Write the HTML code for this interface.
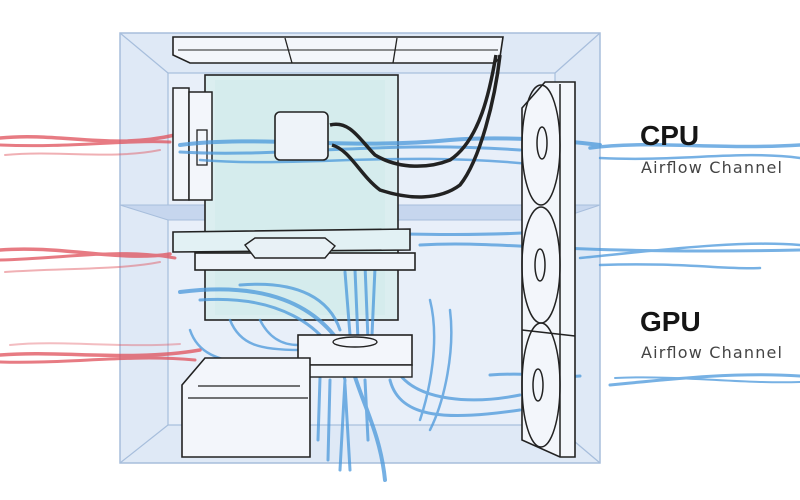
<!DOCTYPE html>
<html><head><meta charset="utf-8"><style>
html,body{margin:0;padding:0;background:#fff;width:800px;height:500px;overflow:hidden}
svg{display:block}
</style></head><body>
<svg width="800" height="500" viewBox="0 0 800 500" xmlns="http://www.w3.org/2000/svg" font-family="Liberation Sans, sans-serif">
<rect x="120" y="33" width="480" height="430" fill="#dfe9f6" stroke="#a7bedc" stroke-width="1.5"/>
<rect x="168" y="73" width="387" height="352" fill="#e8eff9" stroke="#a7bedc" stroke-width="1.2"/>
<g stroke="#a7bedc" stroke-width="1.2" fill="none">
<line x1="120" y1="33" x2="168" y2="73"/><line x1="600" y1="33" x2="555" y2="73"/>
<line x1="120" y1="463" x2="168" y2="425"/><line x1="600" y1="463" x2="555" y2="425"/>
</g>
<polygon points="120,205 600,205 555,220 168,220" fill="#c6d6ee" stroke="#a7bedc"/>
<g stroke="#e0505a" fill="none" stroke-linecap="round" opacity="0.75">
<path d="M0 138 C60 132 110 150 175 135" stroke-width="3.5"/>
<path d="M0 145 C70 148 120 140 170 142" stroke-width="3"/>
<path d="M5 155 C60 150 110 160 160 150" stroke-width="2" opacity="0.6"/>
<path d="M0 250 C60 245 120 262 170 254" stroke-width="3.5"/>
<path d="M0 260 C70 258 120 248 175 258" stroke-width="3"/>
<path d="M5 272 C60 268 120 270 160 262" stroke-width="2" opacity="0.6"/>
<path d="M0 355 C60 350 130 362 200 350" stroke-width="3.5"/>
<path d="M0 362 C70 364 130 354 195 360" stroke-width="3"/>
<path d="M10 345 C60 340 120 348 180 344" stroke-width="2" opacity="0.5"/>
</g>
<rect x="205" y="75" width="193" height="245" fill="#dbeef0" stroke="#222" stroke-width="1.6"/>
<rect x="215" y="80" width="170" height="235" fill="#cfeaea" opacity="0.5"/>
<path d="M173 37 L503 37 L500 57 L495 63 L190 63 L173 55 Z" fill="#f3f6fb" stroke="#222" stroke-width="1.6"/>
<line x1="285" y1="38" x2="292" y2="63" stroke="#222" stroke-width="1.3"/>
<line x1="397" y1="38" x2="393" y2="63" stroke="#222" stroke-width="1.3"/>
<line x1="178" y1="50" x2="498" y2="50" stroke="#222" stroke-width="1"/>
<rect x="173" y="88" width="16" height="112" fill="#f3f6fb" stroke="#222" stroke-width="1.5"/>
<rect x="189" y="92" width="23" height="108" fill="#f3f6fb" stroke="#222" stroke-width="1.5"/>
<rect x="197" y="130" width="10" height="35" fill="none" stroke="#222" stroke-width="1.3"/>
<g stroke="#4a98db" fill="none" stroke-linecap="round" opacity="0.75">
<path d="M180 145 C260 135 350 150 450 140 C500 136 560 140 600 145" stroke-width="4"/>
<path d="M180 152 C280 158 380 140 520 150" stroke-width="3"/>
<path d="M200 160 C300 168 400 150 540 165" stroke-width="2.5"/>
<path d="M590 148 C650 140 720 150 800 145" stroke-width="3.5"/>
<path d="M600 158 C680 162 740 150 800 158" stroke-width="2.5"/>
<path d="M180 237 C280 225 420 240 540 232" stroke-width="3"/>
<path d="M420 245 C500 240 560 255 800 250" stroke-width="3"/>
<path d="M580 258 C660 250 740 240 800 245" stroke-width="2.5"/>
<path d="M600 265 C680 262 730 270 760 268" stroke-width="2.5"/>
<path d="M180 292 C260 282 320 300 350 360 C360 400 380 430 385 480" stroke-width="4"/>
<path d="M200 300 C270 295 330 320 345 380 L340 470" stroke-width="3"/>
<path d="M240 285 C300 280 330 300 340 330" stroke-width="3"/>
<path d="M355 270 L358 340 M365 265 L368 340 M375 268 L372 335 M345 272 L350 335" stroke-width="3"/>
<path d="M330 380 L328 460 M345 385 L350 470 M320 378 L318 440 M365 380 L368 440" stroke-width="3"/>
<path d="M390 380 C400 420 450 420 520 410 M400 375 C420 400 470 405 520 395" stroke-width="3"/>
<path d="M430 300 C440 340 430 390 420 420 M450 310 C455 350 445 400 430 430" stroke-width="2.5"/>
<path d="M190 330 C200 360 230 360 250 365 M230 320 C240 345 260 350 300 350 M260 320 C270 340 285 345 298 345" stroke-width="2.5"/>
<path d="M490 375 C530 372 560 378 580 376 M610 385 C680 378 740 372 800 376" stroke-width="3"/>
<path d="M615 378 C680 375 740 384 800 382" stroke-width="2"/>
</g>
<rect x="275" y="112" width="53" height="48" rx="5" fill="#eef3f9" stroke="#222" stroke-width="1.6"/>
<g stroke="#222" stroke-width="3.5" fill="none">
<path d="M330 125 C350 120 360 140 375 155 C400 170 430 168 450 160 C480 140 490 90 496 55"/>
<path d="M332 145 C350 150 360 175 380 190 C410 200 440 200 460 185 C480 160 495 100 500 55"/>
</g>
<path d="M173 232 L410 229 L410 250 L173 252 Z" fill="#e2f1f4" stroke="#222" stroke-width="1.6"/>
<rect x="195" y="253" width="220" height="17" fill="#eef3f9" stroke="#222" stroke-width="1.6"/>
<polygon points="245,245 255,238 325,238 335,246 325,258 255,258" fill="#e8f1f6" stroke="#222" stroke-width="1.4"/>
<rect x="298" y="335" width="114" height="30" fill="#f3f6fb" stroke="#222" stroke-width="1.6"/>
<rect x="296" y="365" width="116" height="12" fill="#f3f6fb" stroke="#222" stroke-width="1.4"/>
<ellipse cx="355" cy="342" rx="22" ry="5" fill="none" stroke="#222" stroke-width="1.4"/>
<path d="M182 385 L205 358 L310 358 L310 457 L182 457 Z" fill="#f3f6fb" stroke="#222" stroke-width="1.6"/>
<line x1="198" y1="386" x2="300" y2="386" stroke="#222" stroke-width="1.2"/>
<line x1="188" y1="398" x2="308" y2="398" stroke="#222" stroke-width="1.2"/>
<path d="M522 108 L545 82 L575 82 L575 457 L560 457 L522 440 Z" fill="#f3f6fb" stroke="#222" stroke-width="1.6"/>
<line x1="560" y1="84" x2="560" y2="457" stroke="#222" stroke-width="1.5"/>
<g fill="none" stroke="#222" stroke-width="1.5">
<ellipse cx="541" cy="145" rx="19" ry="60"/>
<ellipse cx="541" cy="265" rx="19" ry="58"/>
<ellipse cx="541" cy="385" rx="19" ry="62"/>
<ellipse cx="542" cy="143" rx="5" ry="16"/>
<ellipse cx="540" cy="265" rx="5" ry="16"/>
<ellipse cx="538" cy="385" rx="5" ry="16"/>
<line x1="522" y1="330" x2="575" y2="336"/>
</g>
<text x="640" y="145" font-size="28" font-weight="bold" fill="#151515">CPU</text>
<text x="641" y="173" font-size="16" fill="#444" font-family="DejaVu Sans, sans-serif" textLength="141" lengthAdjust="spacing">Airflow Channel</text>
<text x="640" y="331" font-size="28" font-weight="bold" fill="#151515">GPU</text>
<text x="641" y="358" font-size="16" fill="#444" font-family="DejaVu Sans, sans-serif" textLength="141" lengthAdjust="spacing">Airflow Channel</text>
</svg>
</body></html>
